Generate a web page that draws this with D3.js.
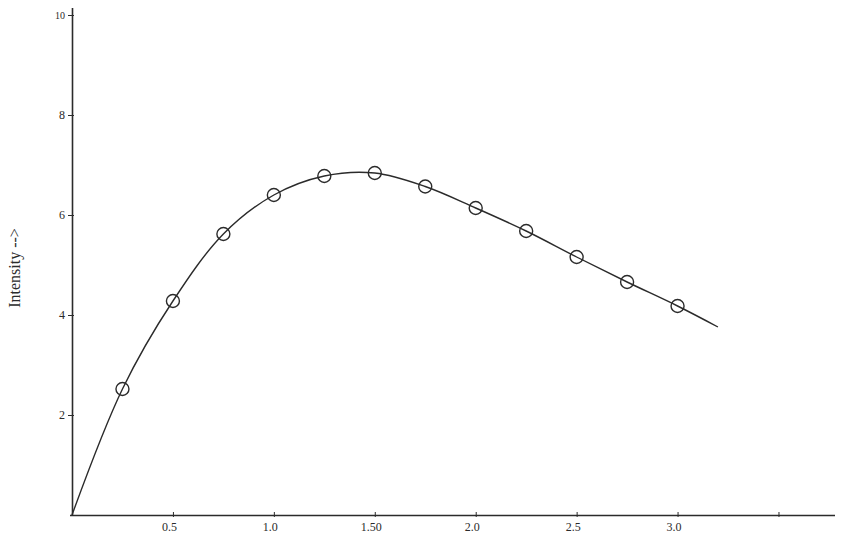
<!DOCTYPE html>
<html>
<head>
<meta charset="utf-8">
<script src="https://cdn.jsdelivr.net/npm/d3@7"></script>
<style>
  html, body { margin: 0; padding: 0; background: #fff; }
  svg { display: block; }
</style>
</head>
<body>
<svg id="chart" width="849" height="539"></svg>
<script>
// Observed points (x, intensity)
const pointX = [0.25, 0.5, 0.75, 1.0, 1.25, 1.5, 1.75, 2.0, 2.25, 2.5, 2.75, 3.0];
const pointY = [2.52, 4.28, 5.62, 6.40, 6.78, 6.84, 6.57, 6.14, 5.68, 5.16, 4.66, 4.18];
// Smooth curve passes through the origin and ends past the last point
const curveX = [0, ...pointX, 3.2];
const curveY = [0, ...pointY, 3.76];
const xTicks = [0.5, 1.0, 1.5, 2.0, 2.5, 3.0, 3.5];
const xTickLabels = ["0.5", "1.0", "1.50", "2.0", "2.5", "3.0", ""];
const yTicks = [2, 4, 6, 8, 10];
const yTickLabels = ["2", "4", "6", "8", "10"];
const yTitle = "Intensity -->";

const svg = d3.select("#chart");
const ink = "#2b2b2b";

const x = d3.scaleLinear().domain([0, 3.78]).range([72, 835]);
const y = d3.scaleLinear().domain([0, 10]).range([515, 15]);

// X axis
const xAxis = d3.axisBottom(x)
  .tickValues(xTicks)
  .tickSize(3)
  .tickFormat((d, i) => xTickLabels[i]);
const gx = svg.append("g").attr("transform", `translate(0,${y(0)})`).call(xAxis);
gx.select(".domain").attr("d", `M70,0.5H835`).attr("stroke", ink).attr("stroke-width", 1.6);
gx.selectAll(".tick line").attr("stroke", ink).attr("y1", -3).attr("y2", 2);
gx.selectAll(".tick text")
  .attr("fill", ink)
  .attr("font-family", "'Liberation Serif', serif")
  .attr("font-size", 12)
  .attr("dy", "0.85em")
  .attr("dx", "-4");

// Y axis
const yAxis = d3.axisLeft(y)
  .tickValues(yTicks)
  .tickSize(4)
  .tickFormat((d, i) => yTickLabels[i]);
const gy = svg.append("g").attr("transform", `translate(${x(0)},0)`).call(yAxis);
gy.select(".domain").attr("d", `M0.5,${y(0) + 1}V8`).attr("stroke", ink).attr("stroke-width", 1.6);
gy.selectAll(".tick line").attr("stroke", ink).attr("x1", -4).attr("x2", 2);
gy.selectAll(".tick text")
  .attr("fill", ink)
  .attr("font-family", "'Liberation Serif', serif")
  .attr("font-size", 12)
  .attr("x", -7);
gy.selectAll(".tick").filter(d => d === 10).select("text").attr("font-size", 10);

// Y title
svg.append("text")
  .attr("transform", `translate(20,268) rotate(-90)`)
  .attr("text-anchor", "middle")
  .attr("font-family", "'Liberation Serif', serif")
  .attr("font-size", 16)
  .attr("fill", ink)
  .text(yTitle);

// Curve
const curveData = curveX.map((d, i) => [d, curveY[i]]);
svg.append("path")
  .datum(curveData)
  .attr("fill", "none")
  .attr("stroke", ink)
  .attr("stroke-width", 1.4)
  .attr("d", d3.line().x(d => x(d[0])).y(d => y(d[1])).curve(d3.curveCatmullRom.alpha(0.5)));

// Points
const pts = pointX.map((d, i) => [d, pointY[i]]);
svg.append("g").selectAll("circle")
  .data(pts)
  .join("circle")
  .attr("cx", d => x(d[0]))
  .attr("cy", d => y(d[1]))
  .attr("r", 6.5)
  .attr("fill", "none")
  .attr("stroke", ink)
  .attr("stroke-width", 1.4);
</script>
</body>
</html>
